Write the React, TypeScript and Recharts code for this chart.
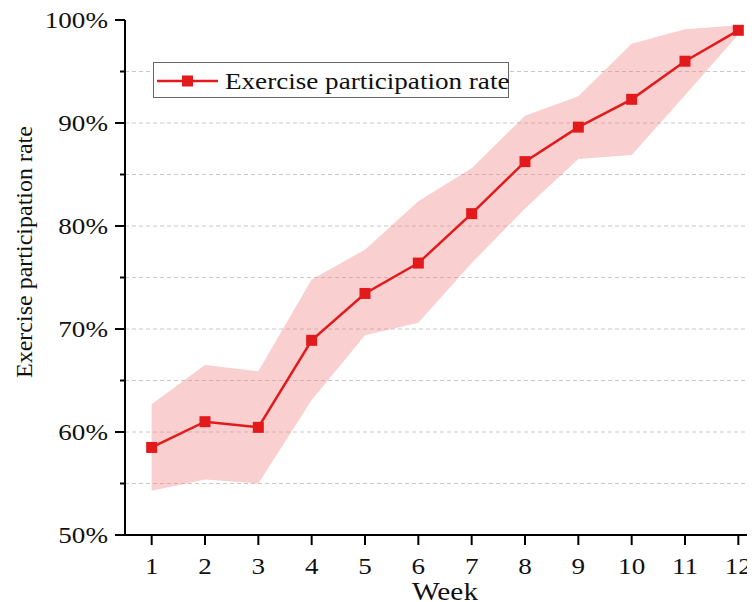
import React from "react";
import {
  ComposedChart,
  Area,
  Line,
  XAxis,
  YAxis,
  CartesianGrid,
  Legend,
  Label,
} from "recharts";

const weeks = [1, 2, 3, 4, 5, 6, 7, 8, 9, 10, 11, 12];
const rate = [58.5, 61.0, 60.45, 68.9, 73.45, 76.4, 81.2, 86.25, 89.6, 92.3, 96.0, 99.0];
const upper = [62.7, 66.5, 65.9, 74.8, 77.7, 82.4, 85.6, 90.7, 92.6, 97.7, 99.1, 99.5];
const lower = [54.3, 55.4, 55.0, 63.1, 69.4, 70.6, 76.4, 81.7, 86.5, 86.9, 92.7, 98.6];
const yTicks = [50, 55, 60, 65, 70, 75, 80, 85, 90, 95, 100];
const gridValues = [55, 60, 65, 70, 75, 80, 85, 90, 95];

const SERIES = "Exercise participation rate";
const FONT = "'Liberation Serif', 'Times New Roman', serif";
const RED = "#e31a1c";
const SX = 1.13;

const data = weeks.map((w, i) => ({
  week: w,
  rate: rate[i],
  band: [lower[i], upper[i]],
}));

const XTick = (props: any) => {
  const { x, y, payload } = props;
  return (
    <g>
      <line x1={x} x2={x} y1={y} y2={y + 10} stroke="#000" strokeWidth={2} />
      <text
        transform={`translate(${x},${y + 39}) scale(${SX},1)`}
        textAnchor="middle"
        fontSize={24}
        fontFamily={FONT}
        fill="#111"
      >
        {payload.value}
      </text>
    </g>
  );
};

const YTick = (props: any) => {
  const { x, y, payload } = props;
  const major = payload.value % 10 === 0;
  return (
    <g>
      <line x1={x - (major ? 10 : 5)} x2={x} y1={y} y2={y} stroke="#000" strokeWidth={2} />
      {major && (
        <text
          transform={`translate(${x - 17},${y + 8}) scale(${SX},1)`}
          textAnchor="end"
          fontSize={24}
          fontFamily={FONT}
          fill="#111"
        >
          {`${payload.value}%`}
        </text>
      )}
    </g>
  );
};

const Square = (props: any) => {
  const { cx, cy, index } = props;
  return <rect key={`sq-${index}`} x={cx - 5.5} y={cy - 5.5} width={11} height={11} fill={RED} />;
};

const renderLegend = (props: any) => {
  const item = (props.payload || []).find((p: any) => p.type !== "none");
  const label = item ? item.value : SERIES;
  return (
    <svg width={357} height={37} style={{ display: "block" }}>
      <rect x={0.5} y={0.5} width={355} height={35} fill="#fff" stroke="#666" strokeWidth={1} />
      <line x1={4} x2={65} y1={19} y2={19} stroke={RED} strokeWidth={2.5} />
      <rect x={29} y={13.5} width={11} height={11} fill={RED} />
      <text
        transform={`translate(72,27) scale(${SX},1)`}
        fontSize={24}
        fontFamily={FONT}
        fill="#111"
      >
        {label}
      </text>
    </svg>
  );
};

const renderWeek = (props: any) => {
  const { x, width } = props.viewBox;
  return (
    <text
      transform={`translate(${x + width / 2},592) scale(${SX},1)`}
      textAnchor="middle"
      fontSize={26}
      fontFamily={FONT}
      fill="#111"
    >
      Week
    </text>
  );
};

const renderYTitle = () => (
  <text
    transform="translate(24,244) rotate(-90)"
    textAnchor="middle"
    fontSize={24}
    fontFamily={FONT}
    fill="#111"
  >
    {SERIES}
  </text>
);

export default function App() {
  return (
    <div style={{ width: 747, height: 594, overflow: "hidden" }}>
      <ComposedChart
        width={757}
        height={594}
        data={data}
        margin={{ top: 12, right: 0, bottom: 0, left: 0 }}
      >
        <CartesianGrid
          vertical={false}
          horizontalValues={gridValues}
          stroke="#c8c8c8"
          strokeDasharray="4 3"
        />
        <XAxis
          type="number"
          dataKey="week"
          domain={[0.5, 12.5]}
          ticks={weeks}
          interval={0}
          allowDataOverflow
          height={67}
          tickSize={0}
          tickMargin={0}
          tickLine={false}
          axisLine={{ stroke: "#000", strokeWidth: 2 }}
          tick={<XTick />}
        >
          <Label content={renderWeek} />
        </XAxis>
        <YAxis
          type="number"
          domain={[50, 100]}
          ticks={yTicks}
          interval={0}
          width={117}
          tickSize={0}
          tickMargin={0}
          tickLine={false}
          axisLine={{ stroke: "#000", strokeWidth: 2 }}
          tick={<YTick />}
        >
          <Label content={renderYTitle} />
        </YAxis>
        <Area
          type="linear"
          dataKey="band"
          stroke="none"
          fill="#f08080"
          fillOpacity={0.38}
          legendType="none"
          dot={false}
          activeDot={false}
          isAnimationActive={false}
        />
        <Line
          type="linear"
          dataKey="rate"
          name={SERIES}
          stroke={RED}
          strokeWidth={2.5}
          dot={<Square />}
          activeDot={false}
          isAnimationActive={false}
        />
        <Legend
          layout="horizontal"
          verticalAlign="middle"
          align="center"
          content={renderLegend}
          wrapperStyle={{ left: 145, top: 54, width: 357, height: 37 }}
        />
      </ComposedChart>
    </div>
  );
}
